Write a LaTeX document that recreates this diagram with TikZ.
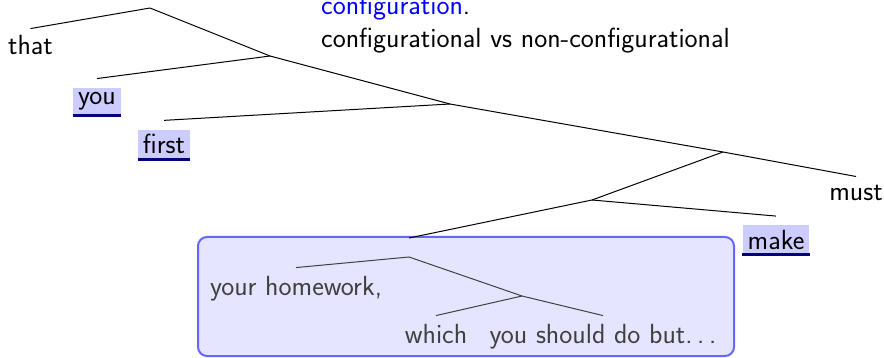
\documentclass[tikz,border=0pt]{standalone}
\usepackage{fontspec}
\usetikzlibrary{positioning}
\begin{document}
\begin{tikzpicture}[
    x=1pt, y=-1pt,
    font=\fontsize{27.7}{32.5}\selectfont\sffamily,
    branch/.style={line width=1pt},
    word/.style={inner sep=5pt, anchor=base},
    hlword/.style={word, inner sep=5pt, fill=blue!20,
        append after command={(\tikzlastnode.south west) edge[draw=blue!50!black, line width=3pt] (\tikzlastnode.south east)}},
    subbox/.style={draw=blue!60, line width=2pt, fill=blue!10, rounded corners=9pt,
        minimum width=536pt, minimum height=119pt, inner sep=0pt},
    inner/.style={black!75}
]

% ramme
\useasboundingbox (0,0) rectangle (884,358);

% overskrift
\node[word, anchor=base west] (conf) at (316,15) {\textcolor{blue}{configuration}.};
\node[word, anchor=base west] (versus) at (316,47.5) {configurational vs non-configurational};

% indre knuder
\coordinate (r) at (150,8);
\coordinate (n1) at (270,56);
\coordinate (n2) at (450,104);
\coordinate (n3) at (723,152);
\coordinate (n4) at (592,200);
\coordinate (n5) at (409,238);
\coordinate (n6) at (409,257);
\coordinate (n7) at (522,296);

% blade
\node[word] (that) at (30.5,55) {that};
\node[hlword] (you) at (97,105) {you};
\node[hlword] (first) at (164,154) {first};
\node[word] (must) at (856,201) {must};
\node[hlword] (make) at (776,249.5) {make};

% deltrae i boks
\node[subbox] (box) at (466,296.5) {};
\node[word, inner] (homework) at (296,295) {your homework,};
\node[word, inner] (which) at (436,343) {which};
\node[word, inner] (should) at (603,343) {you should do but.\,.\,.};

% grene
\draw[branch] (r) -- ([yshift=2pt]that.north);
\draw[branch] (r) -- (n1);
\draw[branch] (n1) -- ([yshift=9pt]you.north);
\draw[branch] (n1) -- (n2);
\draw[branch] (n2) -- ([yshift=9pt]first.north);
\draw[branch] (n2) -- (n3);
\draw[branch] (n3) -- (n4);
\draw[branch] (n3) -- ([yshift=4pt]must.north);
\draw[branch] (n4) -- (n5);
\draw[branch] (n4) -- ([yshift=9pt]make.north);

% grene i boks
\draw[branch, inner] (n6) -- ([yshift=3pt]homework.north);
\draw[branch, inner] (n6) -- (n7);
\draw[branch, inner] (n7) -- ([yshift=3pt]which.north);
\draw[branch, inner] (n7) -- ([yshift=3pt]should.north);

\end{tikzpicture}
\end{document}
